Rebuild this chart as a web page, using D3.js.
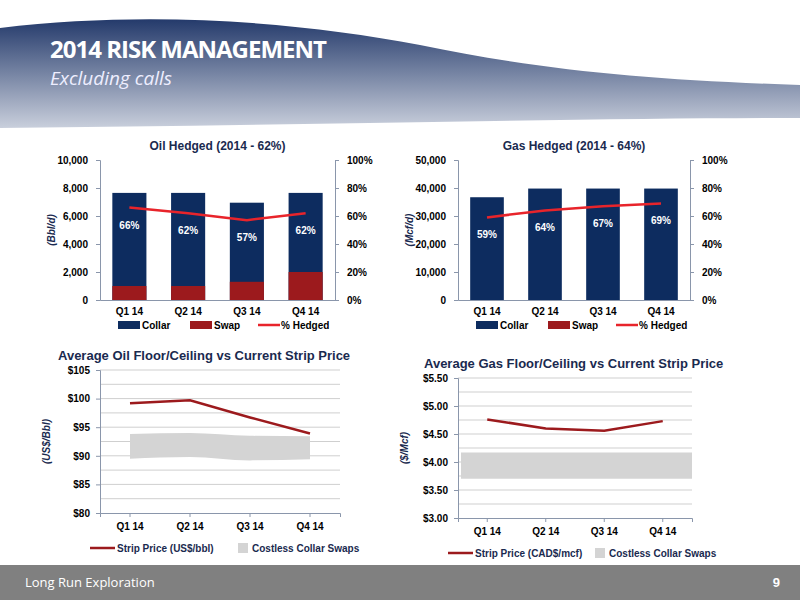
<!DOCTYPE html>
<html><head><meta charset="utf-8">
<script src="https://cdn.jsdelivr.net/npm/d3@7"></script>
<style>body{margin:0;background:#fff}svg{display:block;font-family:"Liberation Sans",Arial,sans-serif}</style>
</head><body><svg id="slide" width="800" height="600"></svg>
<script>
const quarters = ["Q1 14", "Q2 14", "Q3 14", "Q4 14"];
const oilTotal = [7650, 7650, 6950, 7650];
const oilSwap = [1000, 1000, 1300, 2000];
const oilPct = [66, 62, 57, 62];
const gasTotal = [36700, 39800, 39800, 39800];
const gasSwap = [0, 0, 0, 0];
const gasPct = [59, 64, 67, 69];
const oilStrip = [99.2, 99.7, 96.7, 93.9];
const oilFloor = [89.5, 89.8, 89.2, 89.4];
const oilCeil = [93.8, 94.0, 93.5, 93.4];
const gasStrip = [4.76, 4.60, 4.56, 4.73];
const gasFloor = [3.70, 3.70, 3.70, 3.70];
const gasCeil = [4.17, 4.17, 4.17, 4.17];

const navy = "#0d2c5f", red = "#9c1a1d", lred = "#e8242b", tc = "#1a2a4f";
const svg = d3.select("#slide");

// header
const defs = svg.append("defs");
const g1 = defs.append("linearGradient").attr("id", "hg").attr("x1", 0).attr("y1", 0).attr("x2", 0).attr("y2", 1);
g1.append("stop").attr("offset", "0%").attr("stop-color", "#243a6b");
g1.append("stop").attr("offset", "100%").attr("stop-color", "#c9cfdc");
svg.append("path").attr("fill", "url(#hg)")
  .attr("d", "M0,28 C150,10 300,22 420,45 C540,70 650,80 800,85 L800,118 C600,118 300,125 0,128 Z");
svg.append("text").attr("x", 50).attr("y", 58).attr("fill", "#fff").attr("font-size", 24)
  .attr("font-weight", "bold").attr("font-family", "'Open Sans'").attr("letter-spacing", -1).text("2014 RISK MANAGEMENT");
svg.append("text").attr("x", 50).attr("y", 85).attr("fill", "#eef").attr("font-size", 19)
  .attr("font-style", "italic").attr("font-family", "'Open Sans'").text("Excluding calls");

// footer
svg.append("rect").attr("x", 0).attr("y", 565).attr("width", 800).attr("height", 35).attr("fill", "#808080");
svg.append("text").attr("x", 25).attr("y", 587).attr("fill", "#fff").attr("font-size", 13).attr("font-family", "'Open Sans'").text("Long Run Exploration");
svg.append("text").attr("x", 780).attr("y", 587).attr("fill", "#fff").attr("font-size", 13).attr("font-weight", "bold").attr("text-anchor", "end").text("9");

function styleAxis(g) {
  g.selectAll("text").attr("font-size", 10).attr("font-weight", "bold").attr("fill", "#000");
  g.selectAll("path,line").attr("stroke", "#8a96ab");
}

function barChart(o) {
  const x = d3.scaleBand().domain(quarters).range([o.x0, o.x1]).paddingInner(0.42).paddingOuter(0.21);
  const y = d3.scaleLinear().domain([0, o.max]).range([300, 160]);
  const y2 = d3.scaleLinear().domain([0, 100]).range([300, 160]);
  const g = svg.append("g");
  g.append("text").attr("x", (o.x0 + o.x1) / 2).attr("y", 150).attr("text-anchor", "middle")
    .attr("font-size", 12).attr("font-weight", "bold").attr("fill", tc).text(o.title);
  g.append("g").attr("transform", `translate(${o.x0},0)`).call(d3.axisLeft(y).ticks(5).tickFormat(d3.format(",")).tickSize(4).tickPadding(8)).call(styleAxis);
  g.append("g").attr("transform", `translate(${o.x1},0)`).call(d3.axisRight(y2).ticks(5).tickFormat(d => d + "%").tickSize(4).tickPadding(8)).call(styleAxis);
  g.append("g").attr("transform", "translate(0,300)").call(d3.axisBottom(x).tickSize(0).tickPadding(8)).call(styleAxis);
  g.append("text").attr("transform", `translate(${o.x0 - 45},230) rotate(-90)`).attr("text-anchor", "middle")
    .attr("font-size", 10).attr("font-weight", "bold").attr("font-style", "italic").attr("fill", tc).text(o.unit);
  g.selectAll(".c").data(quarters).enter().append("rect").attr("x", d => x(d)).attr("width", x.bandwidth())
    .attr("y", (d, i) => y(o.total[i])).attr("height", (d, i) => y(0) - y(o.total[i])).attr("fill", navy);
  g.selectAll(".s").data(quarters).enter().append("rect").attr("x", d => x(d)).attr("width", x.bandwidth())
    .attr("y", (d, i) => y(o.swap[i])).attr("height", (d, i) => y(0) - y(o.swap[i])).attr("fill", red);
  g.append("path").datum(o.pct).attr("fill", "none").attr("stroke", lred).attr("stroke-width", 2.5)
    .attr("d", d3.line().x((d, i) => x(quarters[i]) + x.bandwidth() / 2).y(d => y2(d)));
  g.selectAll(".l").data(o.pct).enter().append("text").attr("x", (d, i) => x(quarters[i]) + x.bandwidth() / 2)
    .attr("y", d => y2(d) + 21).attr("text-anchor", "middle").attr("font-size", 10).attr("font-weight", "bold")
    .attr("fill", "#fff").text(d => d + "%");
  // legend
  const lx = o.x0 + 18, ly = 325;
  g.append("rect").attr("x", lx).attr("y", ly - 4).attr("width", 22).attr("height", 8).attr("fill", navy);
  g.append("text").attr("x", lx + 24).attr("y", ly + 4).attr("font-size", 10).attr("font-weight", "bold").text("Collar");
  g.append("rect").attr("x", lx + 72).attr("y", ly - 4).attr("width", 22).attr("height", 8).attr("fill", red);
  g.append("text").attr("x", lx + 96).attr("y", ly + 4).attr("font-size", 10).attr("font-weight", "bold").text("Swap");
  g.append("line").attr("x1", lx + 140).attr("x2", lx + 162).attr("y1", ly).attr("y2", ly).attr("stroke", lred).attr("stroke-width", 2.5);
  g.append("text").attr("x", lx + 163).attr("y", ly + 4).attr("font-size", 10).attr("font-weight", "bold").text("% Hedged");
}

barChart({x0: 100, x1: 335, max: 10000, title: "Oil Hedged (2014 - 62%)", unit: "(Bbl/d)", total: oilTotal, swap: oilSwap, pct: oilPct});
barChart({x0: 458, x1: 690, max: 50000, title: "Gas Hedged (2014 - 64%)", unit: "(Mcf/d)", total: gasTotal, swap: gasSwap, pct: gasPct});

function priceChart(o) {
  const x = d3.scaleBand().domain(quarters).range([o.x0, o.x1]);
  const cx = (d, i) => x(quarters[i]) + x.bandwidth() / 2;
  const y = d3.scaleLinear().domain(o.dom).range([o.yb, o.yt]);
  const g = svg.append("g");
  g.append("text").attr("x", o.tx).attr("y", o.yt - 10).attr("font-size", 13).attr("font-weight", "bold").attr("fill", tc).text(o.title);
  g.selectAll(".gr").data(d3.range(o.dom[0], o.dom[1] + 1e-9, o.minor).slice(1)).enter().append("line")
    .attr("x1", o.x0).attr("x2", o.x1).attr("y1", d => y(d)).attr("y2", d => y(d)).attr("stroke", "#cfcfcf");
  const ys = d3.range(o.dom[0], o.dom[1] + 1e-9, o.major);
  g.append("g").attr("transform", `translate(${o.x0},0)`).call(d3.axisLeft(y).tickValues(ys).tickFormat(o.fmt).tickSize(4).tickPadding(6)).call(styleAxis);
  g.append("g").attr("transform", `translate(0,${o.yb})`).call(d3.axisBottom(x).tickSize(4).tickPadding(6)).call(styleAxis);
  g.append("text").attr("transform", `translate(${o.x0 - 50},${(o.yt + o.yb) / 2}) rotate(-90)`).attr("text-anchor", "middle")
    .attr("font-size", 10).attr("font-weight", "bold").attr("font-style", "italic").attr("fill", tc).text(o.unit);
  const bx = o.bandFull ? [x.range()[0] + 3, ...quarters.slice(1, 3).map((q, i) => cx(q, i + 1)), x.range()[1]] : quarters.map(cx);
  const band = quarters.map((q, i) => ({x: bx[i], lo: o.floor[i], hi: o.ceil[i]}));
  g.append("path").datum(band).attr("fill", "#d4d4d4")
    .attr("d", d3.area().curve(d3.curveMonotoneX).x(d => d.x).y0(d => y(d.lo)).y1(d => y(d.hi)));
  g.append("path").datum(o.strip).attr("fill", "none").attr("stroke", red).attr("stroke-width", 2.5)
    .attr("d", d3.line().x(cx).y(d => y(d)));
  const ly = o.yb + 35, lx = o.x0 - 10;
  g.append("line").attr("x1", lx).attr("x2", lx + 25).attr("y1", ly).attr("y2", ly).attr("stroke", red).attr("stroke-width", 2.5);
  g.append("text").attr("x", lx + 27).attr("y", ly + 4).attr("font-size", 10).attr("font-weight", "bold").attr("fill", tc).text(o.legend);
  g.append("rect").attr("x", lx + o.lgap).attr("y", ly - 5).attr("width", 10).attr("height", 10).attr("fill", "#d4d4d4");
  g.append("text").attr("x", lx + o.lgap + 14).attr("y", ly + 4).attr("font-size", 10).attr("font-weight", "bold").attr("fill", tc).text("Costless Collar Swaps");
}

priceChart({x0: 100, x1: 340, yt: 370, yb: 513, tx: 58, dom: [80, 105], major: 5, minor: 2.5, fmt: d => "$" + d,
  title: "Average Oil Floor/Ceiling vs Current Strip Price", unit: "(US$/Bbl)", strip: oilStrip, floor: oilFloor, ceil: oilCeil,
  legend: "Strip Price (US$/bbl)", lgap: 148, bandFull: false});
priceChart({x0: 458, x1: 692, yt: 378, yb: 518, tx: 424, dom: [3, 5.5], major: 0.5, minor: 0.25, fmt: d => "$" + d.toFixed(2),
  title: "Average Gas Floor/Ceiling vs Current Strip Price", unit: "($/Mcf)", strip: gasStrip, floor: gasFloor, ceil: gasCeil,
  legend: "Strip Price (CAD$/mcf)", lgap: 147, bandFull: true});
</script></body></html>
